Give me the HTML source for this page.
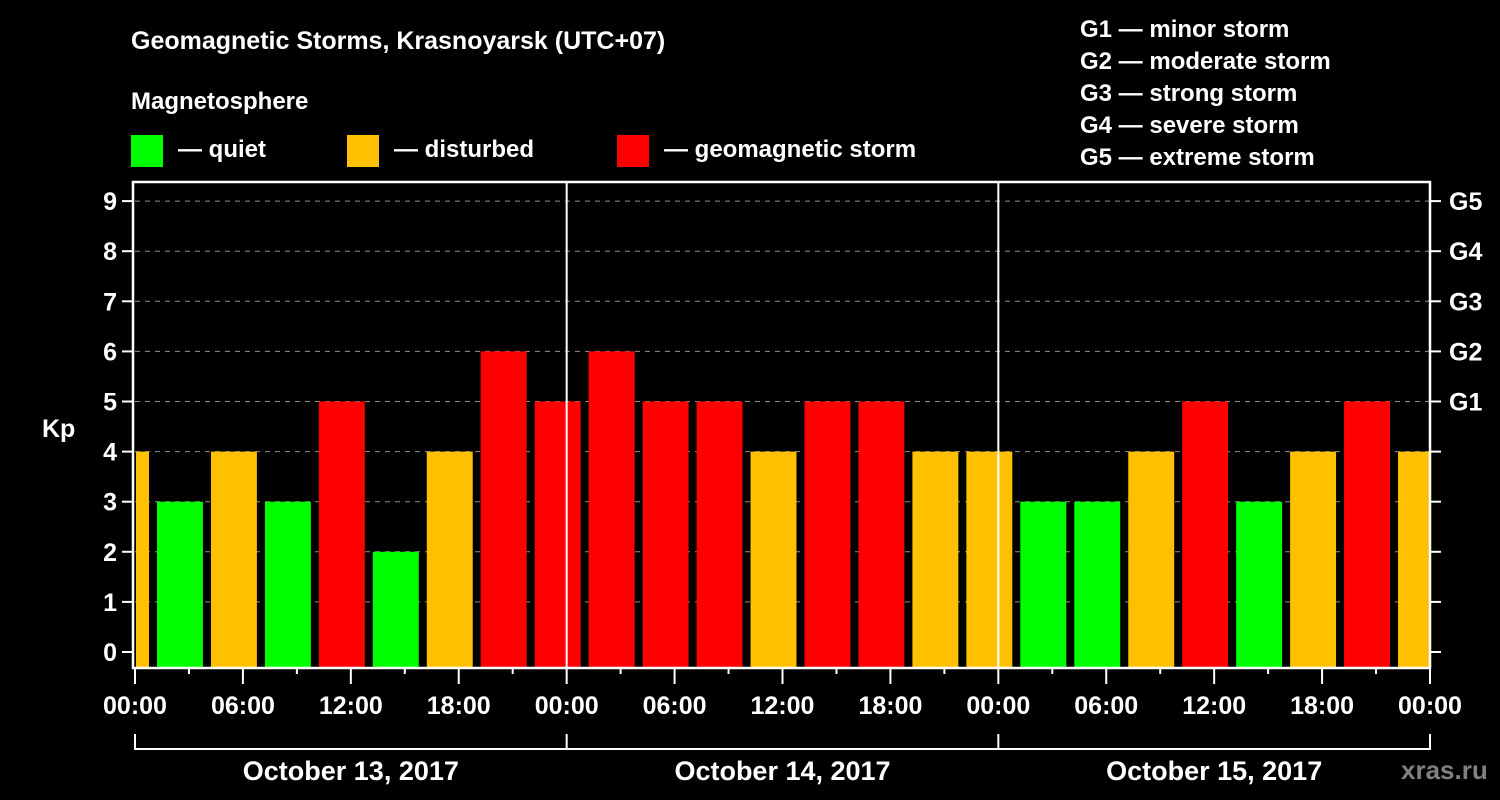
<!DOCTYPE html>
<html><head><meta charset="utf-8"><style>
html,body{margin:0;padding:0;background:#000;}
svg{display:block;font-family:"Liberation Sans",Arial,sans-serif;font-weight:bold;}
</style></head><body>
<svg id="chart" width="1500" height="800" viewBox="0 0 1500 800" xmlns="http://www.w3.org/2000/svg">
<rect width="1500" height="800" fill="#000"/>
<text x="131" y="49" fill="#fff" font-size="25">Geomagnetic Storms, Krasnoyarsk (UTC+07)</text>
<text x="131" y="109" fill="#fff" font-size="24">Magnetosphere</text>
<g><rect x="131" y="135" width="32" height="32" fill="#00ff00"/><text x="178" y="157" fill="#fff" font-size="24">— quiet</text></g>
<g><rect x="347" y="135" width="32" height="32" fill="#ffc000"/><text x="394" y="157" fill="#fff" font-size="24">— disturbed</text></g>
<g><rect x="617" y="135" width="32" height="32" fill="#ff0000"/><text x="664" y="157" fill="#fff" font-size="24">— geomagnetic storm</text></g>
<g fill="#fff" font-size="24">
<text x="1080" y="37">G1 — minor storm</text>
<text x="1080" y="69">G2 — moderate storm</text>
<text x="1080" y="101">G3 — strong storm</text>
<text x="1080" y="133">G4 — severe storm</text>
<text x="1080" y="165">G5 — extreme storm</text>
</g>
<text x="42" y="437" fill="#fff" font-size="25">Kp</text>
<g id="grid"></g>
<g id="bars"></g>
<g id="axes"></g>
<text x="1401" y="779" fill="#808080" font-size="26">xras.ru</text>
</svg>
<script>
const kpValues = [4,3,4,3,5,2,4,6,5,6,5,5,4,5,5,4,4,3,3,4,5,3,4,5,4];
const barCenterHours = [-0.5,2.5,5.5,8.5,11.5,14.5,17.5,20.5,23.5,26.5,29.5,32.5,35.5,38.5,41.5,44.5,47.5,50.5,53.5,56.5,59.5,62.5,65.5,68.5,71.5];
const yTicks = [0,1,2,3,4,5,6,7,8,9];
const gLabels = ["G1","G2","G3","G4","G5"];
const gLevels = [5,6,7,8,9];
const xTickLabels = ["00:00","06:00","12:00","18:00","00:00","06:00","12:00","18:00","00:00","06:00","12:00","18:00","00:00"];
const dayLabels = ["October 13, 2017","October 14, 2017","October 15, 2017"];

const NS="http://www.w3.org/2000/svg";
const X0=135, X1=1430, TOP=182, BOT=668, HOURS=72;
const xs=h=>X0+(X1-X0)*h/HOURS;
const ys=v=>652-v*50.1;
function mk(tag,attrs,parent,text){const e=document.createElementNS(NS,tag);for(const k in attrs)e.setAttribute(k,attrs[k]);if(text!==undefined)e.textContent=text;parent.appendChild(e);return e;}
const grid=document.getElementById('grid'),bars=document.getElementById('bars'),axes=document.getElementById('axes');

yTicks.forEach(v=>{
  if(v>0){const l=mk('line',{x1:X0,x2:X1,y1:ys(v),y2:ys(v),stroke:'#909090','stroke-width':1,'stroke-dasharray':'5,5'},grid);
  
  }
  const t=mk('text',{x:117,y:ys(v)+9,fill:'#fff','font-size':25,'text-anchor':'end'},axes,String(v));
  
  
  mk('line',{x1:122,x2:133,y1:ys(v),y2:ys(v),stroke:'#fff','stroke-width':2},axes);
  mk('line',{x1:1430,x2:1441,y1:ys(v),y2:ys(v),stroke:'#fff','stroke-width':2},axes);
});
gLevels.forEach((v,i)=>{
  const t=mk('text',{x:1449,y:ys(v)+9,fill:'#fff','font-size':25},axes,gLabels[i]);
  
  
});

kpValues.forEach((v,i)=>{
  const c=barCenterHours[i];
  let a=xs(c-1.333)+1,b=xs(c+1.333)-1;
  a=Math.max(a,X0+1);b=Math.min(b,X1-1);
  const col=v>=5?'#ff0000':(v>=4?'#ffc000':'#00ff00');
  const r=mk('rect',{x:a,y:ys(v),width:b-a,height:BOT-ys(v),fill:col},bars);
  
  
});

// frame
const f=mk('rect',{x:133,y:TOP,width:X1-133,height:BOT-TOP,fill:'none',stroke:'#fff','stroke-width':2.5},axes);


[24,48].forEach(h=>{
  const l=mk('line',{x1:xs(h),x2:xs(h),y1:TOP,y2:BOT,stroke:'#fff','stroke-width':2},axes);
  
  
});
for(let h=0;h<=72;h+=3){
  const big=h%6===0;
  mk('line',{x1:xs(h),x2:xs(h),y1:BOT,y2:BOT+(big?16:6),stroke:'#fff','stroke-width':2},axes);
}
xTickLabels.forEach((s,i)=>{
  const t=mk('text',{x:xs(i*6),y:714,fill:'#fff','font-size':25,'text-anchor':'middle'},axes,s);
  
  
});
mk('line',{x1:X0,x2:X1,y1:749,y2:749,stroke:'#fff','stroke-width':2},axes);
[0,24,48,72].forEach(h=>mk('line',{x1:xs(h),x2:xs(h),y1:734,y2:750,stroke:'#fff','stroke-width':2},axes));
dayLabels.forEach((s,i)=>{
  const t=mk('text',{x:xs(i*24+12),y:780,fill:'#fff','font-size':27,'text-anchor':'middle'},axes,s);
  
  
});
</script>
</body></html>
